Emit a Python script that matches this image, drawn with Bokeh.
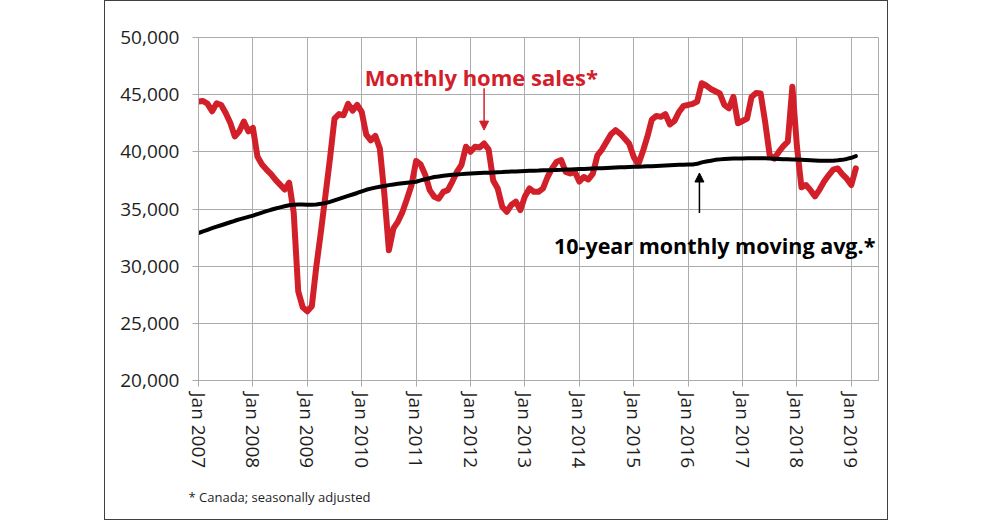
import numpy as np
from bokeh.plotting import figure
from bokeh.models import (Range1d, FixedTicker, NumeralTickFormatter, Label, Arrow,
                          NormalHead, Spacer, ColumnDataSource, Title)
from bokeh.layouts import row
from bokeh.embed import file_html
from bokeh.resources import INLINE

# ---------------- data (monthly, Jan 2007 .. Feb 2019) ----------------
sales_2007 = [44400, 44450, 44200, 43550, 44250, 44100, 43400, 42550, 41350, 41800, 42650, 41800]
sales_2008 = [42100, 39600, 38900, 38450, 38050, 37550, 37130, 36700, 37300, 34700, 27800, 26400]
sales_2009 = [26050, 26500, 30000, 33000, 36200, 39400, 42900, 43300, 43200, 44200, 43600, 44100]
sales_2010 = [43500, 41500, 41000, 41400, 40300, 36300, 31400, 33300, 33900, 34750, 35900, 37100]
sales_2011 = [39200, 38900, 38000, 36650, 36070, 35900, 36500, 36650, 37400, 38250, 38850, 40450]
sales_2012 = [40000, 40440, 40380, 40730, 40200, 37500, 36800, 35200, 34760, 35350, 35650, 34900]
sales_2013 = [36100, 36800, 36500, 36500, 36800, 37800, 38550, 39130, 39270, 38250, 38100, 38250]
sales_2014 = [37400, 37800, 37580, 38100, 39700, 40200, 40870, 41540, 41900, 41600, 41160, 40700]
sales_2015 = [39560, 38900, 40000, 41300, 42820, 43140, 43060, 43290, 42390, 42700, 43490, 44020]
sales_2016 = [44100, 44200, 44400, 46000, 45800, 45500, 45300, 45100, 44100, 43800, 44800, 42500]
sales_2017 = [42700, 42900, 44800, 45150, 45100, 42600, 39700, 39400, 40000, 40500, 40900, 45700]
sales_2018 = [40500, 36900, 37100, 36650, 36100, 36700, 37400, 37950, 38450, 38550, 38050, 37650]
sales_2019 = [37100, 38550]

avg_2007 = [32900, 33040, 33180, 33320, 33450, 33580, 33710, 33840, 33970, 34090, 34200, 34310]
avg_2008 = [34420, 34560, 34690, 34810, 34930, 35040, 35140, 35240, 35330, 35380, 35400, 35390]
avg_2009 = [35380, 35380, 35400, 35450, 35520, 35620, 35750, 35880, 36010, 36140, 36270, 36400]
avg_2010 = [36550, 36680, 36780, 36870, 36950, 37010, 37090, 37150, 37200, 37250, 37300, 37340]
avg_2011 = [37380, 37500, 37600, 37700, 37800, 37850, 37900, 37950, 37990, 38020, 38050, 38080]
avg_2012 = [38100, 38120, 38140, 38160, 38180, 38200, 38220, 38230, 38250, 38270, 38290, 38310]
avg_2013 = [38330, 38340, 38350, 38360, 38380, 38390, 38400, 38420, 38430, 38450, 38460, 38480]
avg_2014 = [38490, 38500, 38520, 38540, 38560, 38570, 38590, 38610, 38630, 38650, 38660, 38680]
avg_2015 = [38690, 38700, 38710, 38730, 38740, 38760, 38780, 38800, 38820, 38840, 38860, 38880]
avg_2016 = [38900, 38900, 38950, 39080, 39150, 39220, 39300, 39340, 39370, 39390, 39410, 39420]
avg_2017 = [39420, 39430, 39440, 39440, 39440, 39430, 39420, 39400, 39380, 39360, 39350, 39340]
avg_2018 = [39330, 39310, 39290, 39270, 39250, 39230, 39210, 39210, 39230, 39260, 39300, 39380]
avg_2019 = [39480, 39620]

tick_labels = ["Jan 2007", "Jan 2008", "Jan 2009", "Jan 2010", "Jan 2011", "Jan 2012",
               "Jan 2013", "Jan 2014", "Jan 2015", "Jan 2016", "Jan 2017", "Jan 2018",
               "Jan 2019"]
y_ticks = [20000, 25000, 30000, 35000, 40000, 45000, 50000]
footnote = "* Canada; seasonally adjusted"

sales = (sales_2007 + sales_2008 + sales_2009 + sales_2010 + sales_2011 + sales_2012 +
         sales_2013 + sales_2014 + sales_2015 + sales_2016 + sales_2017 + sales_2018 + sales_2019)
avg = (avg_2007 + avg_2008 + avg_2009 + avg_2010 + avg_2011 + avg_2012 + avg_2013 +
       avg_2014 + avg_2015 + avg_2016 + avg_2017 + avg_2018 + avg_2019)
months = list(range(len(sales)))

RED = "#D2202A"
GRID = "#ABABAB"
TXT = "#1E1E1E"

src = ColumnDataSource(dict(month=months, sales=sales, avg=avg))

p = figure(width=784, height=520, x_range=Range1d(0, 150), y_range=Range1d(20000, 50000),
           output_backend="svg", toolbar_location=None,
           min_border_left=93, min_border_right=11, min_border_top=36, min_border_bottom=141)
p.background_fill_color = "white"
p.border_fill_color = "white"
p.outline_line_color = GRID
p.outline_line_width = 1

# axes
x_tick_pos = [12 * i for i in range(len(tick_labels))]
p.xaxis.ticker = FixedTicker(ticks=x_tick_pos)
p.xaxis.major_label_overrides = {t: lab for t, lab in zip(x_tick_pos, tick_labels)}
p.xaxis.major_label_orientation = "vertical"
p.yaxis.ticker = FixedTicker(ticks=y_ticks)
p.yaxis.formatter = NumeralTickFormatter(format="0,0")
for ax in (p.xaxis, p.yaxis):
    ax.axis_line_color = GRID
    ax.major_tick_line_color = GRID
    ax.major_tick_out = 6
    ax.major_tick_in = 0
    ax.minor_tick_line_color = None
    ax.major_label_text_font = "Open Sans"
    ax.major_label_text_font_size = "19px"
    ax.major_label_text_color = TXT
p.yaxis.major_label_standoff = 13
p.xaxis.major_label_standoff = 6

p.xgrid.grid_line_color = GRID
p.ygrid.grid_line_color = GRID
p.xgrid.grid_line_width = 1
p.ygrid.grid_line_width = 1

# series
p.line("month", "sales", source=src, line_color=RED, line_width=6,
       line_join="round", line_cap="round")
p.line("month", "avg", source=src, line_color="black", line_width=4,
       line_join="round", line_cap="round")

# annotations
ann_sales = 63   # Apr 2012
p.add_layout(Label(x=62.4, y=46530, text="Monthly home sales*", text_font="Open Sans",
                   text_font_style="bold", text_font_size="22px", text_color=RED,
                   text_align="center", text_baseline="alphabetic"))
p.add_layout(Arrow(end=NormalHead(size=9, fill_color=RED, line_color=RED),
                   x_start=months[ann_sales], y_start=45570,
                   x_end=months[ann_sales], y_end=sales[ann_sales] + 1170,
                   line_color=RED, line_width=1.5))

ann_avg = 110
p.add_layout(Label(x=78.4, y=31810, text="10-year monthly moving avg.*", text_font="Open Sans",
                   text_font_style="bold", text_font_size="21.5px", text_color="black",
                   text_align="left", text_baseline="alphabetic"))
p.add_layout(Arrow(end=NormalHead(size=9, fill_color="black", line_color="black"),
                   x_start=months[ann_avg] + 0.5, y_start=34650,
                   x_end=months[ann_avg] + 0.5, y_end=avg[ann_avg] - 800,
                   line_color="black", line_width=1.5))

p.add_layout(Title(text=footnote, align="left", offset=-10, standoff=29,
                   text_font="Open Sans", text_font_size="13px", text_font_style="normal",
                   text_color=TXT), "below")

p.styles = {"border": "1px solid #404040"}

layout = row(Spacer(width=104, height=520), p)
open("out.html", "w").write(file_html(layout, INLINE))
